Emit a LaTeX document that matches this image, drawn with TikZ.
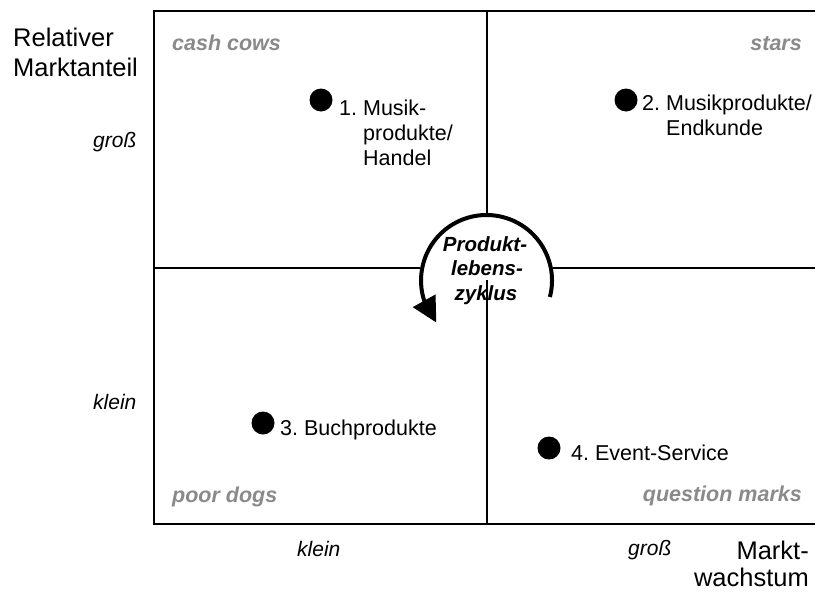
\documentclass[tikz,border=0pt]{standalone}
\usepackage{fontspec}
\setmainfont{Liberation Sans}
\usetikzlibrary{arrows.meta,bending}
\definecolor{quadgray}{HTML}{8A8A8A}
\frenchspacing
\tikzset{
  frameline/.style={line width=1.5pt, black},
  axistitle/.style={font=\fontsize{25.5}{30}\selectfont, inner sep=0pt},
  scalelbl/.style={font=\fontsize{21}{25}\selectfont\itshape, inner sep=0pt},
  quadlbl/.style={font=\fontsize{21.5}{25}\selectfont\bfseries\itshape, text=quadgray, inner sep=0pt},
  itemlbl/.style={font=\fontsize{21.5}{25}\selectfont, inner sep=0pt},
  cyclelbl/.style={font=\fontsize{20.5}{25}\selectfont\bfseries\itshape, inner sep=0pt},
  itemdot/.style={circle, fill=black, inner sep=0pt, minimum size=23pt},
}
\begin{document}
\begin{tikzpicture}[x=1pt, y=-1pt]
  \useasboundingbox (0,0) rectangle (816,592);

  % portfolio frame and quadrant dividers
  \coordinate (tl) at (154,11);
  \coordinate (tr) at (815,11);
  \coordinate (bl) at (154,524);
  \coordinate (br) at (815,524);
  \coordinate (ml) at (153,268);
  \coordinate (mr) at (815,268);
  \coordinate (mt) at (487,11);
  \coordinate (mb) at (487,524);
  \draw[frameline] (tr) -- (tl) -- (bl) -- (br);
  \draw[frameline] (ml) -- (mr);
  \draw[frameline] (mt) -- (mb);

  % blank area behind the cycle label
  \fill[white] (420,213) rectangle (553,280);

  % axis titles
  \node[axistitle, anchor=base west] (rel1) at (13,46) {Relativer};
  \node[axistitle, anchor=base west] (rel2) at (13,76) {Marktanteil};
  \node[axistitle, anchor=base east] (mw1) at (809,559) {Markt-};
  \node[axistitle, anchor=base east] (mw2) at (809,586) {wachstum};

  % scale labels
  \node[scalelbl, anchor=base west] (ygross) at (93,147) {groß};
  \node[scalelbl, anchor=base west] (yklein) at (93,409) {klein};
  \node[scalelbl, anchor=base west] (xklein) at (297,556) {klein};
  \node[scalelbl, anchor=base west] (xgross) at (628,555) {groß};

  % quadrant names
  \node[quadlbl, anchor=base west] (cows) at (172,50) {cash cows};
  \node[quadlbl, anchor=base east] (stars) at (802,50) {stars};
  \node[quadlbl, anchor=base west] (dogs) at (172,502) {poor dogs};
  \node[quadlbl, anchor=base east] (qmarks) at (802,501) {question marks};

  % product positions
  \node[itemdot] (d1) at (321,100) {};
  \node[itemlbl, anchor=base west] (t1a) at (339,115) {1. Musik-};
  \node[itemlbl, anchor=base west] (t1b) at (363,140) {produkte/};
  \node[itemlbl, anchor=base west] (t1c) at (363,165) {Handel};

  \node[itemdot] (d2) at (626,100) {};
  \node[itemlbl, anchor=base west] (t2a) at (642,110) {2. Musikprodukte/};
  \node[itemlbl, anchor=base west] (t2b) at (666,135) {Endkunde};

  \node[itemdot] (d3) at (263,423) {};
  \node[itemlbl, anchor=base west] (t3) at (280,435) {3. Buchprodukte};

  \node[itemdot] (d4) at (549,448) {};
  \node[itemlbl, anchor=base west] (t4) at (571,460) {4. Event-Service};

  % product life cycle
  \node[cyclelbl, anchor=base] (c1) at (485,251) {Produkt-};
  \node[cyclelbl, anchor=base] (c2) at (487,275) {lebens-};
  \node[cyclelbl, anchor=base] (c3) at (486,300) {zyklus};
  \coordinate (cc) at (486.5,280.5);
  \draw[line width=4pt, -{Triangle[length=25pt, width=25pt]}]
    ([shift={(14.6:65.5)}]cc) arc[start angle=14.6, end angle=-220, radius=65.5];
\end{tikzpicture}
\end{document}
